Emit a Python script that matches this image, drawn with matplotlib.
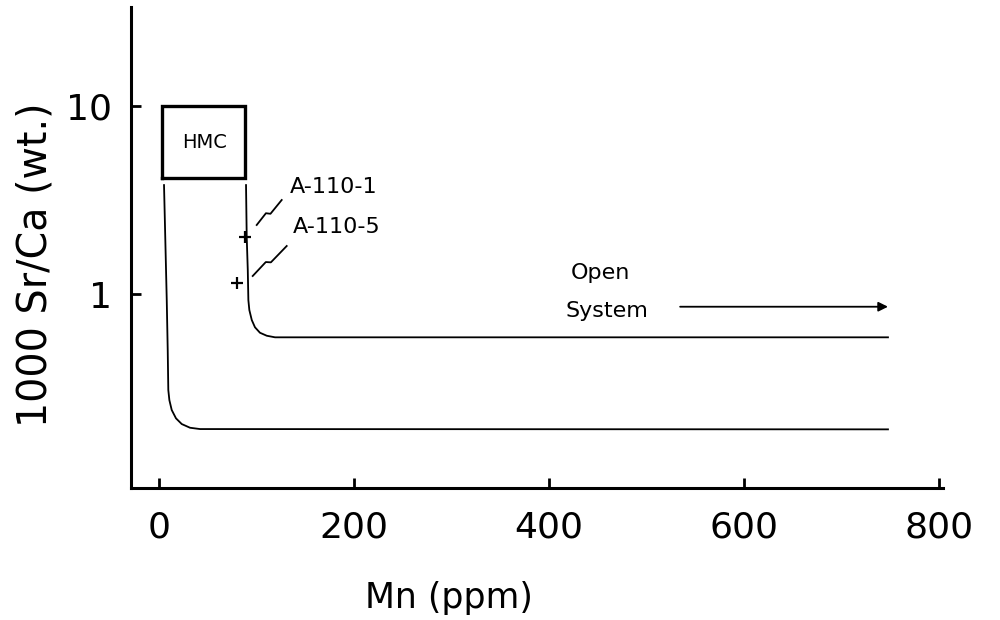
import numpy as np
import matplotlib
matplotlib.use('Agg')
import matplotlib.pyplot as plt

# 曲线数据 (Mn ppm, 1000 Sr/Ca)
low_mn = [4.7, 7.5, 8.5, 9.1, 10.2, 12.6, 17.0, 22.9, 31.4, 41.7, 748]
low_sr = [3.81, 0.929, 0.503, 0.308, 0.272, 0.241, 0.2175, 0.2028, 0.1938,
          0.1907, 0.190]
high_mn = [88.9, 89.6, 90.7, 91.3, 92.3, 94.8, 98.1, 103.2, 110.2, 118.7, 748]
high_sr = [3.81, 2.02, 1.343, 0.929, 0.822, 0.727, 0.665, 0.622, 0.5995,
           0.588, 0.588]

# HMC 方框范围
hmc_mn = [3, 88]
hmc_sr = [4.15, 10]

# 样品点
sample_names = ['A-110-1', 'A-110-5']
sample_mn = [87.9, 80]
sample_sr = [2.01, 1.14]

xticks = [0, 200, 400, 600, 800]
yticks = [1, 10]

plt.rcParams['font.family'] = ['DejaVu Sans']
fig = plt.figure(figsize=(10, 6.2), dpi=100)
ax = fig.add_axes([0.131, 0.2129, 0.812, 0.7758])
ax.set_yscale('log')
ax.set_xlim(-29.2, 804.5)
ax.set_ylim(0.0925, 33.9)

for s in ['top', 'right']:
    ax.spines[s].set_visible(False)
for s in ['left', 'bottom']:
    ax.spines[s].set_linewidth(2.2)

ax.set_xticks(xticks)
ax.set_xticklabels([str(v) for v in xticks])
ax.set_yticks(yticks)
ax.set_yticklabels([str(v) for v in yticks])
ax.yaxis.set_minor_locator(matplotlib.ticker.NullLocator())
ax.tick_params(axis='x', direction='in', length=7, width=2, labelsize=26, pad=16)
ax.tick_params(axis='y', direction='in', length=7, width=2, labelsize=26, pad=14)

# 两条曲线
ax.plot(low_mn, low_sr, color='black', lw=1.3, solid_joinstyle='round')
ax.plot(high_mn, high_sr, color='black', lw=1.3, solid_joinstyle='round')

# HMC 方框
ax.plot([hmc_mn[0], hmc_mn[1], hmc_mn[1], hmc_mn[0], hmc_mn[0]],
        [hmc_sr[0], hmc_sr[0], hmc_sr[1], hmc_sr[1], hmc_sr[0]],
        color='black', lw=2.4, solid_joinstyle='miter')
ax.text(np.mean(hmc_mn) + 0.5, np.sqrt(hmc_sr[0] * hmc_sr[1]), 'HMC',
        ha='center', va='center', fontsize=14)

# 样品点
ax.plot(sample_mn, sample_sr, linestyle='none', marker='+', ms=9,
        mew=1.6, color='black')
ax.text(134, 3.72, sample_names[0], ha='left', va='center', fontsize=16)
ax.text(137, 2.28, sample_names[1], ha='left', va='center', fontsize=16)


# 引线 (带折断的小斜线), 像素坐标
def leader(p0, p1):
    p0 = np.array(p0, float)
    p1 = np.array(p1, float)
    d = p1 - p0
    n = np.array([d[1], -d[0]]) / np.hypot(*d)
    a = p0 + 0.42 * d + 1.8 * n
    b = p0 + 0.50 * d - 1.8 * n
    pts = np.array([p0, a, b, p1])
    fig.add_artist(plt.Line2D(pts[:, 0] / 1000, 1 - pts[:, 1] / 620,
                              color='black', lw=1.3))


leader((256.7, 225), (281.7, 200))
leader((252.7, 276), (286.7, 246))

# Open System 箭头
ax.text(453, 1.29, 'Open', ha='center', va='center', fontsize=16)
ax.text(459, 0.812, 'System', ha='center', va='center', fontsize=16)
ax.annotate('', xy=(748, 0.856), xytext=(534.6, 0.856),
            arrowprops=dict(arrowstyle='-|>', color='black', lw=1.3,
                            mutation_scale=14, shrinkA=0, shrinkB=0))

fig.text(0.449, 0.0355, 'Mn (ppm)', ha='center', va='center', fontsize=25)
fig.text(0.036, 0.5726, '1000 Sr/Ca (wt.)', ha='center', va='center',
         rotation=90, fontsize=28.5)

fig.savefig('out.png', dpi=100)
